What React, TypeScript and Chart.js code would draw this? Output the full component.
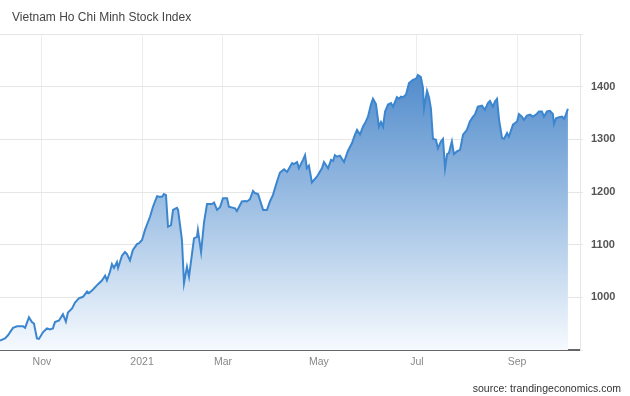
import React, { useEffect, useRef } from "react";
import { Chart, registerables } from "chart.js";

Chart.register(...registerables);

// Trading-session index (from early Oct 2020) and closing values of the index
const sessions = [
  0, 2.2, 3.5, 5.7, 7.5, 10.1, 11.0, 12.7, 14.0, 14.9, 16.2, 17.1, 18.9, 20.6, 21.9, 23.2, 24.1, 25.9, 27.6, 28.9,
  29.8, 31.6, 32.9, 34.6, 36.4, 38.2, 39.0, 40.8, 43.0, 44.7, 46.1, 46.9, 48.2, 49.1, 50.0, 51.3, 51.8, 53.5, 54.8, 55.7,
  57.0, 58.3, 60.1, 61.0, 62.3, 63.6, 65.8, 67.1, 68.9, 69.7, 71.1, 71.9, 72.8, 73.7, 75.0, 75.9, 77.6, 78.1, 79.8, 80.7,
  82.0, 82.9, 85.1, 86.4, 86.8, 88.2, 89.5, 90.8, 93.0, 93.9, 95.2, 96.5, 97.8, 99.6, 100.4, 103.1, 103.9, 106.1, 107.5, 108.3,
  109.6, 111.0, 111.8, 113.2, 115.4, 117.1, 118.4, 119.7, 121.5, 122.8, 124.6, 125.9, 128.1, 128.9, 130.3, 131.1, 132.9, 133.8, 134.6, 135.5,
  136.8, 139.0, 141.2, 142.1, 143.9, 145.2, 146.1, 146.9, 147.8, 149.1, 150.9, 152.6, 154.4, 155.7, 156.6, 157.9, 159.2, 160.5, 161.4, 162.7,
  163.6, 164.9, 166.2, 167.1, 168.0, 168.9, 170.2, 171.5, 172.4, 174.1, 175.0, 175.9, 176.8, 178.1, 179.4, 181.1, 182.5, 183.3, 184.6, 185.5,
  186.0, 187.3, 188.2, 189.0, 189.9, 191.2, 192.1, 193.4, 194.3, 195.2, 196.1, 196.9, 198.2, 199.1, 200.4, 201.8, 203.1, 204.8, 206.1, 207.5,
  208.3, 209.6, 211.4, 212.7, 214.0, 214.9, 216.2, 217.1, 218.0, 218.9, 220.2, 221.1, 222.4, 223.2, 225.0, 226.8, 227.6, 228.9, 229.8, 231.1,
  232.5, 233.8, 235.1, 236.4, 237.7, 238.6, 239.9, 241.2, 242.5, 243.0, 243.9, 245.2, 246.5, 247.4, 248.2, 249.1,
];
const closes = [
  918, 922, 928, 942, 945, 945, 942, 962, 953, 950, 922, 921, 934, 941, 939, 941, 953, 956, 968, 954,
  971, 979, 990, 998, 1001, 1011, 1008, 1015, 1025, 1032, 1041, 1032, 1048, 1063, 1056, 1067, 1056, 1079, 1086, 1082,
  1070, 1090, 1101, 1103, 1109, 1128, 1153, 1172, 1192, 1191, 1191, 1196, 1194, 1134, 1137, 1166, 1170, 1166, 1109, 1027,
  1058, 1039, 1112, 1115, 1128, 1086, 1143, 1177, 1177, 1180, 1166, 1171, 1188, 1188, 1172, 1169, 1164, 1182, 1183, 1182,
  1186, 1202, 1198, 1196, 1166, 1166, 1182, 1194, 1220, 1237, 1243, 1238, 1255, 1253, 1257, 1245, 1261, 1270, 1245, 1250,
  1218, 1229, 1245, 1257, 1245, 1261, 1259, 1270, 1267, 1269, 1257, 1278, 1293, 1309, 1318, 1309, 1324, 1334, 1343, 1366,
  1377, 1367, 1324, 1333, 1324, 1353, 1366, 1369, 1362, 1380, 1377, 1381, 1380, 1385, 1407, 1413, 1415, 1422, 1418, 1398,
  1359, 1392, 1379, 1359, 1301, 1299, 1283, 1296, 1301, 1245, 1272, 1274, 1296, 1272, 1277, 1280, 1309, 1318, 1334, 1343,
  1347, 1362, 1364, 1356, 1369, 1373, 1362, 1372, 1377, 1337, 1302, 1301, 1312, 1305, 1328, 1334, 1348, 1343, 1337, 1345,
  1347, 1343, 1347, 1353, 1353, 1343, 1353, 1354, 1348, 1329, 1340, 1342, 1343, 1339, 1347, 1358,
];

const monthTickSessions = [18.4, 62.3, 97.8, 139.9, 182.9, 226.8];
const monthTickLabels = ["Nov", "2021", "Mar", "May", "Jul", "Sep"];
const yGridValues = [900, 1000, 1100, 1200, 1300, 1400, 1500];
const yLabelValues = [1000, 1100, 1200, 1300, 1400];

const titleText = "Vietnam Ho Chi Minh Stock Index";
const sourceText = "source: trandingeconomics.com";

export default function App() {
  const canvasRef = useRef<HTMLCanvasElement | null>(null);

  useEffect(() => {
    if (!canvasRef.current) return;
    const points = sessions.map((s, i) => ({ x: s, y: closes[i] }));
    const chart = new Chart(canvasRef.current, {
      type: "line",
      data: {
        datasets: [
          {
            data: points,
            borderColor: "#3b86cf",
            borderWidth: 2,
            pointRadius: 0,
            tension: 0,
            fill: "start",
            backgroundColor: (ctx: any) => {
              const { chart } = ctx;
              const area = chart.chartArea;
              if (!area) return "rgba(60,130,200,0.5)";
              const g = chart.ctx.createLinearGradient(0, area.top, 0, area.bottom);
              g.addColorStop(0, "rgb(58,124,196)");
              g.addColorStop(0.5, "rgb(150,186,225)");
              g.addColorStop(1, "rgb(246,250,254)");
              return g;
            },
          },
        ],
      },
      options: {
        animation: false,
        responsive: false,
        maintainAspectRatio: false,
        layout: { padding: { top: 34, left: 0, right: 0, bottom: 0 } },
        plugins: {
          legend: { display: false },
          tooltip: { enabled: false },
          title: { display: false },
        },
        events: [],
        scales: {
          x: {
            type: "linear",
            min: 0,
            max: 254.4,
            afterBuildTicks: (scale: any) => {
              scale.ticks = monthTickSessions.map((v) => ({ value: v }));
            },
            afterFit: (scale: any) => {
              scale.height = 46;
            },
            ticks: {
              autoSkip: false,
              maxRotation: 0,
              padding: 6,
              color: "#888",
              font: { family: "'Liberation Sans', Arial, sans-serif", size: 10.5 },
              callback: (_v: any, i: number) => monthTickLabels[i],
            },
            grid: { color: "#ececec", drawTicks: false, lineWidth: 1 },
            border: { display: true, color: "#666", width: 2 },
          },
          y: {
            position: "right",
            min: 900,
            max: 1500,
            afterBuildTicks: (scale: any) => {
              scale.ticks = yGridValues.map((v) => ({ value: v }));
            },
            afterFit: (scale: any) => {
              scale.width = 50;
            },
            ticks: {
              padding: 8,
              color: "#555",
              font: { family: "'Liberation Sans', Arial, sans-serif", size: 11, weight: "bold" },
              callback: (v: any) => (yLabelValues.includes(v) ? String(v) : ""),
            },
            grid: { color: "#e6e6e6", tickLength: 3, lineWidth: 1 },
            border: { display: true, color: "#e6e6e6", width: 1 },
          },
        },
      },
    } as any);
    return () => chart.destroy();
  }, []);

  return (
    <div style={{ position: "fixed", left: 0, top: 0, width: 630, height: 396, background: "#fff" }}>
      <canvas ref={canvasRef} width={630} height={396} style={{ width: 630, height: 396, display: "block" }} />
      <div
        style={{
          position: "absolute",
          left: 12,
          top: 10,
          fontFamily: "'Liberation Sans', Arial, sans-serif",
          fontSize: 12,
          lineHeight: "14px",
          color: "#444",
          whiteSpace: "nowrap",
        }}
      >
        {titleText}
      </div>
      <div
        style={{
          position: "absolute",
          right: 9,
          top: 382,
          fontFamily: "'Liberation Sans', Arial, sans-serif",
          fontSize: 10.5,
          lineHeight: "13px",
          color: "#333",
          whiteSpace: "nowrap",
        }}
      >
        {sourceText}
      </div>
    </div>
  );
}
